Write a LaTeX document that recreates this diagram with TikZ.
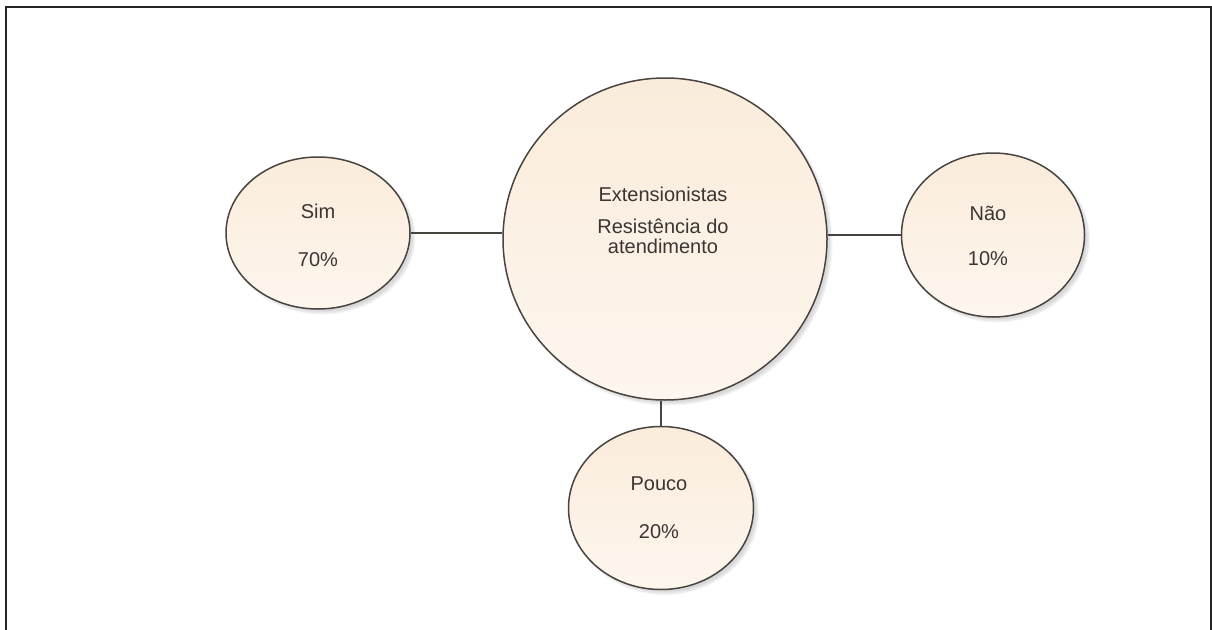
\documentclass[tikz,border=0pt]{standalone}
\usepackage{fontspec}
\setmainfont{Liberation Sans}
\usetikzlibrary{shapes.geometric,shadows.blur}
\definecolor{bubbletop}{RGB}{250,236,219}
\definecolor{bubblebot}{RGB}{253,246,238}
\definecolor{inkline}{RGB}{72,68,64}
\definecolor{inktext}{RGB}{58,54,52}
\begin{document}
\begin{tikzpicture}[x=1pt,y=-1pt,
  bubble/.style={ellipse,draw=inkline,line width=1.5pt,
    top color=bubbletop,bottom color=bubblebot,
    blur shadow={shadow xshift=4pt,shadow yshift=-4pt,shadow opacity=15,shadow blur steps=8},
    inner sep=0pt},
  lbl/.style={text=inktext,font=\fontsize{20}{21}\selectfont,anchor=base,inner sep=0pt},
  link/.style={draw=inkline,line width=1.5pt}]
\useasboundingbox (0,0) rectangle (1212,629);
% frame: left, top and right sides only
\draw[line width=2pt,black!85] (6,640) -- (6,6.5) -- (1210.5,6.5) -- (1210.5,640);
% bubbles
\node[bubble,minimum width=324pt,minimum height=322pt] (hub) at (665,239) {};
\node[bubble,minimum width=184pt,minimum height=152pt] (sim) at (318,233) {};
\node[bubble,minimum width=183pt,minimum height=164pt] (nao) at (993,235) {};
\node[bubble,minimum width=185pt,minimum height=163pt] (pouco) at (661,508) {};
% labels
\node[lbl] (hubA) at (663,201) {Extensionistas};
\node[lbl] (hubB) at (663,233) {Resistência do};
\node[lbl] (hubC) at (663,253) {atendimento};
\node[lbl] (simA) at (318,218) {Sim};
\node[lbl] (simB) at (318,266) {70\%};
\node[lbl] (naoA) at (988,220) {Não};
\node[lbl] (naoB) at (988,265) {10\%};
\node[lbl] (poucoA) at (659,490) {Pouco};
\node[lbl] (poucoB) at (659,538) {20\%};
% connectors
\draw[link] (sim.east) -- (sim.east -| hub.west);
\draw[link] (nao.west -| hub.east) -- (nao.west);
\draw[link] (pouco.north) -- (pouco.north |- hub.south);
\end{tikzpicture}
\end{document}
